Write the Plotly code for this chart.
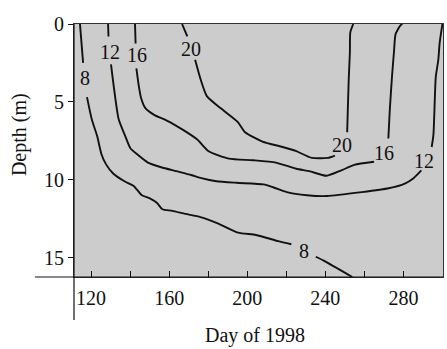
import plotly.graph_objects as go

# ---- data ----
# isotherm 8 °C
day_8 = [114.3, 115.9, None, 117.9, 120.3, 123.1, 125.4, 127.6, 131.3, 137.1, 141.8, 146.0,
         150.1, 153.8, 156.5, 161.6, 168.3, 176.0, 184.9, 195.3, 204.5, 215.9, 222.6, None,
         235.1, 239.2, 253.8]
depth_8 = [0.0, 2.5, None, 4.7, 6.1, 7.2, 8.4, 9.0, 9.6, 10.1, 10.4, 11.0,
           11.2, 11.5, 11.9, 12.0, 12.2, 12.4, 12.8, 13.4, 13.55, 13.95, 14.15, None,
           14.95, 15.2, 16.25]

# isotherm 12 °C
day_12 = [128.7, 128.9, None, 130.2, 131.6, 134.1, 137.5, 140.2, 143.9, 149.1, 155.9, 163.6,
          171.3, 176.5, 184.2, 194.5, 208.4, 213.5, 220.3, 230.6, 240.9, 258.7, 272.5, 280.7,
          285.2, 289.2, None, 294.5, 295.4, 296.6, 297.9, 298.6, 300.0]
depth_12 = [0.0, 0.8, None, 2.6, 4.0, 6.1, 7.2, 8.0, 8.4, 8.9, 9.2, 9.45,
            9.7, 9.9, 10.1, 10.2, 10.3, 10.5, 10.8, 11.0, 11.05, 10.8, 10.55, 10.25,
            9.9, 9.4, None, 7.9, 7.1, 3.4, 2.3, 1.2, 0.0]

# isotherm 16 °C
day_16 = [142.5, 142.8, None, 143.2, 144.4, 145.6, 147.8, 152.5, 158.8, 167.1, 174.4, 180.2,
          190.6, 202.9, 214.7, 225.1, 231.8, 240.6, 248.2, 254.8, 265.0, None,
          272.3, 273.0, 274.1, 275.2, 276.0, 278.4, 279.5]
depth_16 = [0.0, 1.25, None, 2.85, 3.95, 4.75, 5.4, 5.85, 6.2, 6.8, 7.42, 8.17,
            8.65, 8.75, 8.9, 9.3, 9.45, 9.75, 9.4, 9.05, 8.85, None,
            7.35, 5.6, 3.5, 1.75, 0.65, 0.1, 0.0]

# isotherm 20 °C
day_20 = [166.6, 169.3, None, 173.3, 176.1, 179.4, 186.8, 195.2, 198.9, 207.8, 218.1, 224.8,
          233.1, 241.3, 244.9, None, 251.2, 251.5, 252.0, 252.6, 252.8, 254.3]
depth_20 = [0.0, 0.8, None, 2.3, 3.55, 4.65, 5.45, 6.3, 6.95, 7.55, 7.9, 8.15,
            8.6, 8.6, 8.45, None, 6.95, 5.65, 3.55, 1.8, 0.55, 0.0]

# contour labels
label_text = ["8", "8", "12", "12", "16", "16", "20", "20"]
label_day = [117.1, 228.9, 129.6, 290.8, 143.5, 270.0, 171.1, 248.3]
label_depth = [3.45, 14.6, 1.8, 8.8, 2.0, 8.3, 1.6, 7.8]

# axes
x_tickvals = [120, 140, 160, 180, 200, 220, 240, 260, 280]
x_ticktext = ["120", "", "160", "", "200", "", "240", "", "280"]
y_tickvals = [0, 5, 10, 15]
y_ticktext = ["0", "5", "10", "15"]
x_range = [111.24, 300.3]
y_range = [16.25, 0]

FONT = "Liberation Serif"
INK = "#111111"

fig = go.Figure()
for xs, ys in [(day_8, depth_8), (day_12, depth_12), (day_16, depth_16), (day_20, depth_20)]:
    fig.add_trace(go.Scatter(x=xs, y=ys, mode="lines",
                             line=dict(color=INK, width=1.9, shape="spline", smoothing=0.6),
                             connectgaps=False, showlegend=False, hoverinfo="skip"))

for t, d, z in zip(label_text, label_day, label_depth):
    fig.add_annotation(x=d, y=z, text=t, showarrow=False, xanchor="center", yanchor="middle",
                       font=dict(family=FONT, size=20, color=INK))

fig.add_annotation(xref="paper", yref="paper", x=-0.149, y=0.561, text="Depth (m)", textangle=-90,
                   showarrow=False, xanchor="center", yanchor="middle",
                   font=dict(family=FONT, size=20, color=INK))
fig.add_annotation(xref="paper", yref="paper", x=0.4905, y=-0.232, text="Day of 1998",
                   showarrow=False, xanchor="center", yanchor="middle",
                   font=dict(family=FONT, size=20, color=INK))

# extended axis lines (as in the scanned figure)
fig.add_shape(type="line", xref="paper", yref="paper", x0=-0.106, x1=1, y0=0, y1=0,
              line=dict(color=INK, width=1.2))
fig.add_shape(type="line", xref="paper", yref="paper", x0=0, x1=0, y0=-0.17, y1=1,
              line=dict(color=INK, width=1.2))

fig.update_layout(
    width=447, height=349,
    margin=dict(l=74, r=4, t=24, b=72),
    paper_bgcolor="white", plot_bgcolor="#cccccc",
    font=dict(family=FONT, size=20, color=INK),
    showlegend=False,
    xaxis=dict(range=x_range, tickvals=x_tickvals, ticktext=x_ticktext, ticks="inside", ticklen=6,
               tickwidth=1, tickcolor=INK, showgrid=False, zeroline=False, showline=True,
               linecolor="#333333", linewidth=1, mirror=True, ticklabelstandoff=3,
               tickfont=dict(family=FONT, size=20, color=INK)),
    yaxis=dict(range=y_range, tickvals=y_tickvals, ticktext=y_ticktext, ticks="outside", ticklen=5,
               tickwidth=1, tickcolor=INK, showgrid=False, zeroline=False, showline=True,
               linecolor="#333333", linewidth=1, mirror=True,
               tickfont=dict(family=FONT, size=20, color=INK)),
)

fig.write_html("out.html", config={"staticPlot": True},
               post_script="document.body.style.margin='0';document.body.style.overflow='hidden';")
